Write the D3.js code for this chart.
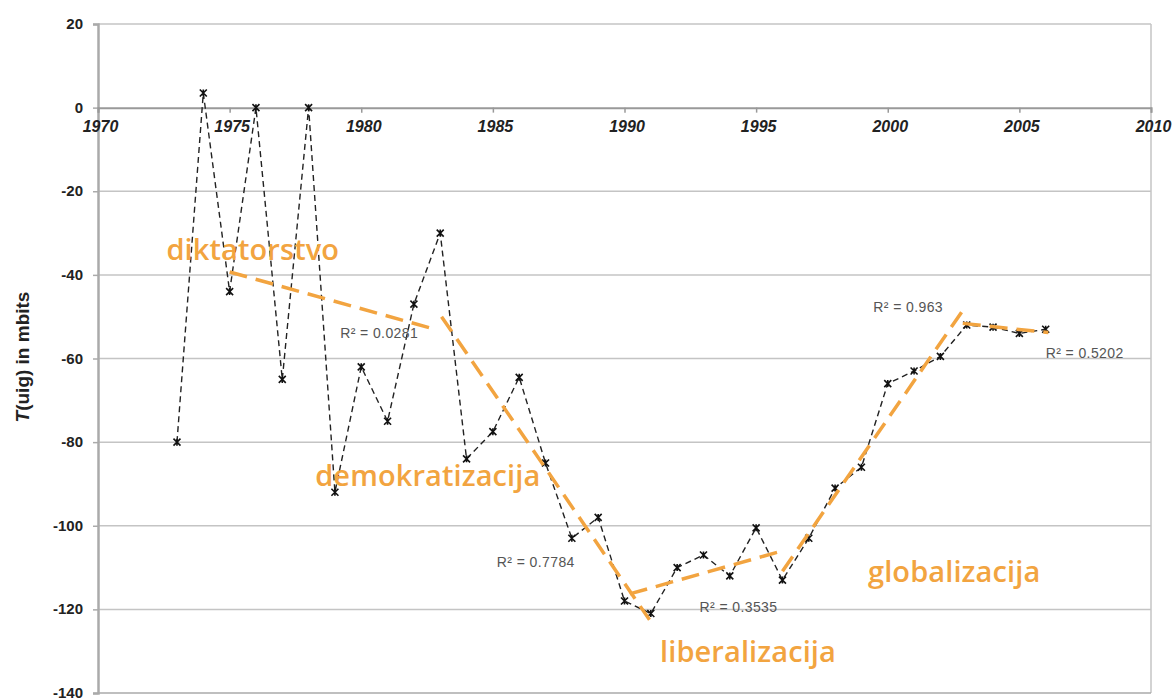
<!DOCTYPE html>
<html><head><meta charset="utf-8">
<script src="https://cdn.jsdelivr.net/npm/d3@7"></script>
<style>body{margin:0;background:#fff;} svg{display:block;}</style>
</head><body>
<svg id="chart" width="1176" height="700"></svg>
<script>
// ---- data ----
const years = [1973,1974,1975,1976,1977,1978,1979,1980,1981,1982,1983,1984,1985,1986,1987,1988,1989,1990,1991,1992,1993,1994,1995,1996,1997,1998,1999,2000,2001,2002,2003,2004,2005,2006];
const values = [-80,3.5,-44,0,-65,0,-92,-62,-75,-47,-30,-84,-77.5,-64.5,-85,-103,-98,-118,-121,-110,-107,-112,-100.5,-113,-103,-91,-86,-66,-63,-59.5,-52,-52.5,-54,-53];
// trend lines (start year, start value, end year, end value)
const trendX1 = [1975.0, 1983.05, 1990.2, 1996.0, 2002.85];
const trendY1 = [-39.3, -50, -116.3, -110.9, -51.6];
const trendX2 = [1982.85, 1990.95, 1996.0, 2002.95, 2006.1];
const trendY2 = [-53.1, -122.5, -106, -47.6, -53.8];
const r2Labels = ["R² = 0.0281","R² = 0.7784","R² = 0.3535","R² = 0.963","R² = 0.5202"];
const r2X = [1979.2, 1985.15, 1992.85, 1999.45, 2006.0];
const r2Y = [-54.2, -108.9, -119.7, -48.1, -58.9];
const phaseLabels = ["diktatorstvo","demokratizacija","liberalizacija","globalizacija"];
const phaseX = [1972.6, 1978.25, 1991.35, 1999.25];
const phaseY = [-36.5, -90.6, -132.6, -113.4];
const xTicks = [1970,1975,1980,1985,1990,1995,2000,2005,2010];
const yTicks = [20,0,-20,-40,-60,-80,-100,-120,-140];

// ---- layout ----
const svg = d3.select("#chart");
const L = 98, R = 1151, T = 24, B = 693;
const x = d3.scaleLinear().domain([1970,2010]).range([L,R]);
const y = d3.scaleLinear().domain([-140,20]).range([B,T]);
const orange = "#F2A440";

// gridlines
svg.append("g").selectAll("line").data(yTicks.filter(v=>v!==0 && v!==-140)).join("line")
  .attr("x1",L).attr("x2",R).attr("y1",d=>y(d)).attr("y2",d=>y(d))
  .attr("stroke","#c4c4c4").attr("stroke-width",1.5);
// border right & bottom
svg.append("line").attr("x1",R).attr("x2",R).attr("y1",y(20)).attr("y2",y(-140)).attr("stroke","#c4c4c4").attr("stroke-width",1.5);
svg.append("line").attr("x1",L).attr("x2",R).attr("y1",y(-140)).attr("y2",y(-140)).attr("stroke","#aaa").attr("stroke-width",1.5);

// y axis
const yAxis = d3.axisLeft(y).tickValues(yTicks).tickFormat(d=>String(d)).tickSize(5).tickPadding(10);
const gy = svg.append("g").attr("transform",`translate(${L},0)`).call(yAxis);
gy.select(".domain").attr("stroke","#aaa").attr("stroke-width",2.5);
gy.selectAll(".tick line").attr("stroke","#aaa").attr("stroke-width",1.5);
gy.selectAll(".tick text").attr("font-family","Liberation Sans, Arial, sans-serif")
  .attr("font-size",15).attr("font-weight","bold").attr("fill","#222").attr("dy","0.3em");

// x axis at y=0
const xAxis = d3.axisBottom(x).tickValues(xTicks).tickFormat(d=>String(d)).tickSize(5).tickPadding(8);
const gx = svg.append("g").attr("transform",`translate(0,${y(0)})`).call(xAxis);
gx.select(".domain").attr("stroke","#999").attr("stroke-width",2);
gx.selectAll(".tick line").attr("stroke","#999").attr("stroke-width",1.5);
gx.selectAll(".tick text").attr("font-family","Liberation Sans, Arial, sans-serif")
  .attr("font-size",16).attr("font-weight","bold").attr("font-style","italic").attr("fill","#222")
  .attr("dx",2);

// y-axis title
const yt = svg.append("text").attr("transform",`translate(29,357) rotate(-90)`)
  .attr("text-anchor","middle").attr("font-family","Liberation Sans, Arial, sans-serif")
  .attr("font-size",19).attr("font-weight","bold").attr("fill","#222");
yt.append("tspan").attr("font-style","italic").text("T");
yt.append("tspan").text("(uig) in mbits");

// data line
const pts = years.map((yr,i)=>[yr,values[i]]);
svg.append("path").datum(pts)
  .attr("d", d3.line().x(d=>x(d[0])).y(d=>y(d[1])))
  .attr("fill","none").attr("stroke","#222").attr("stroke-width",1.4).attr("stroke-dasharray","6,4");

// markers (asterisk-like)
const m = 3.5;
svg.append("g").selectAll("path").data(pts).join("path")
  .attr("transform",d=>`translate(${x(d[0])},${y(d[1])})`)
  .attr("d",`M${-m},${-m}L${m},${m}M${-m},${m}L${m},${-m}M0,${-m}L0,${m}`)
  .attr("stroke","#111").attr("stroke-width",1.6).attr("fill","none");

// trend lines
svg.append("g").selectAll("line").data(trendX1.map((v,i)=>i)).join("line")
  .attr("x1",i=>x(trendX1[i])).attr("y1",i=>y(trendY1[i]))
  .attr("x2",i=>x(trendX2[i])).attr("y2",i=>y(trendY2[i]))
  .attr("stroke",orange).attr("stroke-width",3.5).attr("stroke-dasharray","18,9");

// R² labels
svg.append("g").selectAll("text").data(r2Labels).join("text")
  .attr("x",(d,i)=>x(r2X[i])).attr("y",(d,i)=>y(r2Y[i]))
  .attr("dominant-baseline","middle")
  .attr("font-family","Liberation Sans, Arial, sans-serif").attr("font-size",14)
  .attr("letter-spacing",0.4).attr("fill","#555").text(d=>d);

// phase labels
svg.append("g").selectAll("text").data(phaseLabels).join("text")
  .attr("x",(d,i)=>x(phaseX[i])).attr("y",(d,i)=>y(phaseY[i]))
  .attr("font-family","Open Sans, sans-serif").attr("font-size",29).attr("font-weight",600)
  .attr("letter-spacing",0.1).attr("fill",orange).text(d=>d);
</script>
</body></html>
